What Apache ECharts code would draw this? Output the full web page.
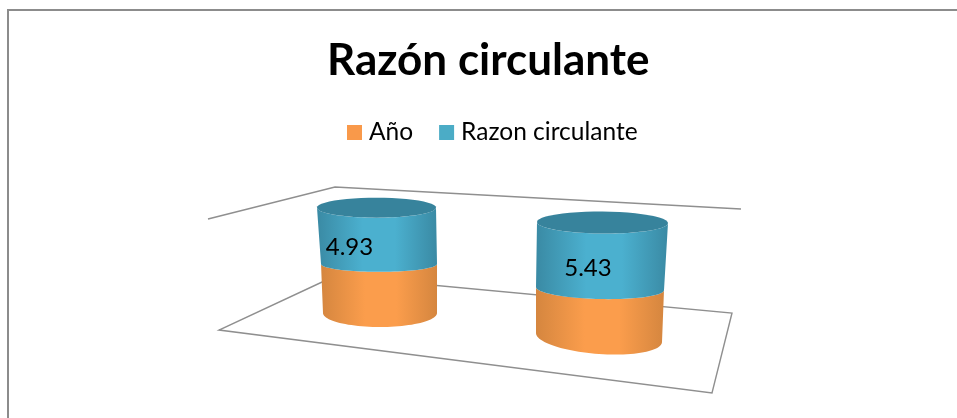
<!DOCTYPE html>
<html>
<head>
<meta charset="utf-8">
<style>
  html, body { margin: 0; padding: 0; background: #fff; }
  #chart { width: 957px; height: 418px; }
</style>
<script src="https://cdn.jsdelivr.net/npm/echarts@6/dist/echarts.min.js"></script>
</head>
<body>
<div id="chart"></div>
<script>
const categories = ['1', '2']
const anioValues = [4.31, 4.03]
const razonValues = [4.93, 5.43]

const fontName = 'Lato, Carlito, sans-serif'
const axisMax = 10

// each column sits in its own grid, the y scale differs because of the perspective
const views = [
  {
    grid: { left: 280, width: 200, top: 199, height: 114 },
    labelDx: -27,
    labelDy: 12,
    levels: [
      { dx: 0, rx: 57, ry: 14, shear: 0 },
      { dx: -1, rx: 58, ry: 8, shear: 0 },
      { dx: -3.5, rx: 59.5, ry: 10, shear: 0 }
    ]
  },
  {
    grid: { left: 499, width: 200, top: 216, height: 121.5 },
    labelDx: -14.5,
    labelDy: 13,
    levels: [
      { dx: 0, rx: 63, ry: 16.5, shear: 0.07 },
      { dx: 1, rx: 64, ry: 10.5, shear: 0.023 },
      { dx: 3.5, rx: 65.5, ry: 11, shear: 0.008 }
    ]
  }
]

const orange = { swatch: '#f9994a', edge: '#d5863f', mid: '#fb9d4c' }
const blue = { swatch: '#4bacc6', edge: '#3a8aa4', mid: '#4bb0cf', top: '#37839c' }

function ellipsePoints(cx, cy, level, from, to) {
  const points = []
  const steps = 48
  for (let i = 0; i <= steps; i++) {
    const a = from + (to - from) * i / steps
    const x = level.rx * Math.cos(a)
    points.push([cx + x, cy + level.ry * Math.sin(a) + level.shear * x])
  }
  return points
}

function sideGradient(color) {
  return new echarts.graphic.LinearGradient(0, 0, 1, 0, [
    { offset: 0, color: color.edge },
    { offset: 0.38, color: color.mid },
    { offset: 0.65, color: color.mid },
    { offset: 1, color: color.edge }
  ])
}

function cylinderItem(view, layer, color, showTop) {
  return function (params, api) {
    const base = api.value(1)
    const size = api.value(2)
    const low = api.coord([api.value(0), base])
    const high = api.coord([api.value(0), base + size])
    const lowLevel = view.levels[layer]
    const highLevel = view.levels[layer + 1]
    const lowX = low[0] + lowLevel.dx
    const highX = low[0] + highLevel.dx

    // front half of the lower ring, then back along the upper ring
    const side = ellipsePoints(lowX, low[1], lowLevel, Math.PI, 0)
      .concat(ellipsePoints(highX, high[1], highLevel, 0, Math.PI))

    const children = [{
      type: 'polygon',
      shape: { points: side },
      style: { fill: sideGradient(color) }
    }]

    if (showTop) {
      children.push({
        type: 'polygon',
        shape: { points: ellipsePoints(highX, high[1], highLevel, 0, Math.PI * 2) },
        style: { fill: color.top }
      })
      children.push({
        type: 'text',
        style: {
          text: size.toFixed(2),
          x: highX + view.labelDx,
          y: (low[1] + high[1]) / 2 + view.labelDy,
          font: '24px ' + fontName,
          fill: '#000',
          align: 'center',
          verticalAlign: 'middle'
        }
      })
    }
    return { type: 'group', children: children }
  }
}

const series = []
views.forEach((view, i) => {
  series.push({
    name: 'Año',
    type: 'custom',
    xAxisIndex: i,
    yAxisIndex: i,
    itemStyle: { color: orange.swatch },
    renderItem: cylinderItem(view, 0, orange, false),
    data: [[0, 0, anioValues[i]]]
  })
  series.push({
    name: 'Razon circulante',
    type: 'custom',
    xAxisIndex: i,
    yAxisIndex: i,
    itemStyle: { color: blue.swatch },
    renderItem: cylinderItem(view, 1, blue, true),
    data: [[0, anioValues[i], razonValues[i]]]
  })
})

const frameLine = { stroke: '#8f8f8f', fill: null, lineWidth: 1.4 }

const chart = echarts.init(document.getElementById('chart'))
chart.setOption({
  animation: false,
  backgroundColor: '#fff',
  title: {
    text: 'Razón circulante',
    left: 322,
    top: 34,
    textStyle: { fontFamily: fontName, fontSize: 44, fontWeight: 'bold', color: '#000' }
  },
  legend: {
    left: 347,
    top: 120,
    padding: 0,
    itemWidth: 15,
    itemHeight: 15,
    itemGap: 26,
    icon: 'rect',
    textStyle: { fontFamily: fontName, fontSize: 24.5, color: '#000', padding: [0, 0, 0, 2] },
    data: ['Año', 'Razon circulante']
  },
  grid: views.map(v => Object.assign({ containLabel: false }, v.grid)),
  xAxis: views.map((v, i) => ({ type: 'category', gridIndex: i, data: [categories[i]], show: false })),
  yAxis: views.map((v, i) => ({ type: 'value', gridIndex: i, min: 0, max: axisMax, show: false })),
  graphic: [
    // chart area border, only top and left are in the picture
    { type: 'polyline', z: 0, silent: true, shape: { points: [[8, 418], [8, 10], [957, 10]] }, style: { stroke: '#8c8c8c', fill: null, lineWidth: 2 } },
    // back walls
    { type: 'polyline', z: 0, silent: true, shape: { points: [[208, 219], [335, 187], [741, 209]] }, style: frameLine },
    // floor
    { type: 'polyline', z: 0, silent: true, shape: { points: [[335, 276], [219, 330], [712, 393], [732, 313], [335, 276]] }, style: frameLine }
  ],
  series: series
})
</script>
</body>
</html>
